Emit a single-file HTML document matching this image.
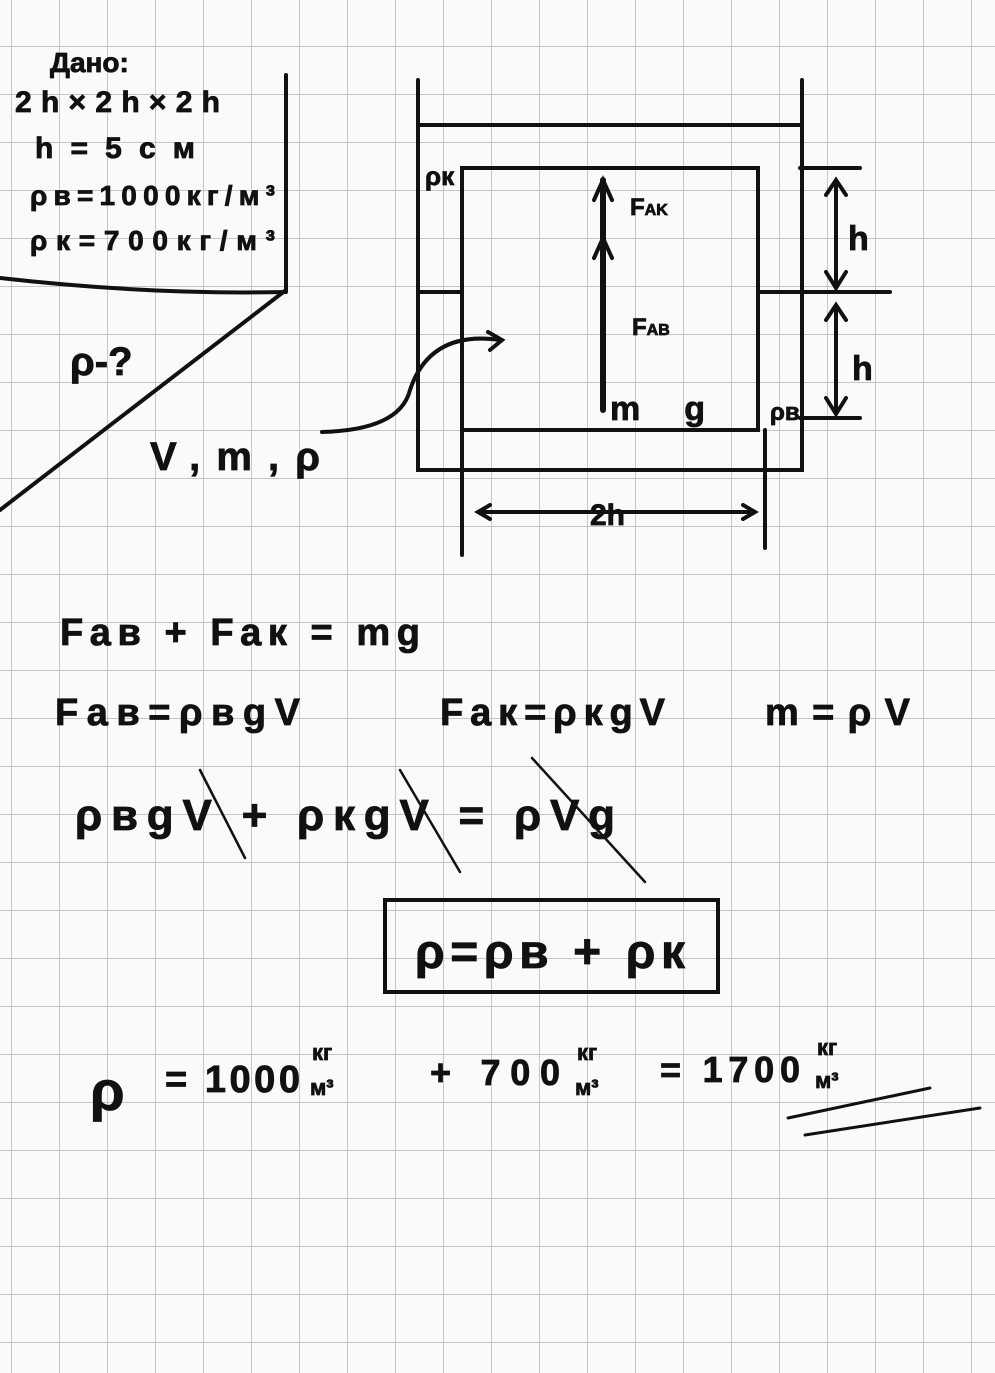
<!DOCTYPE html>
<html><head><meta charset="utf-8"><style>
html,body{margin:0;padding:0;background:#fff}
svg{display:block}
text{font-family:"Liberation Sans",sans-serif;font-weight:bold;fill:#111;stroke:#111;stroke-width:0.8}
</style></head><body>
<svg width="995" height="1373" viewBox="0 0 995 1373" xmlns="http://www.w3.org/2000/svg">
<defs>
<pattern id="g" x="11" y="-2" width="48" height="48" patternUnits="userSpaceOnUse">
<path d="M0 0V48M0 0H48" stroke="#a5a5a5" stroke-width="1.2" fill="none"/>
</pattern>
</defs>
<rect width="995" height="1373" fill="#fafafa"/>
<rect width="995" height="1373" fill="url(#g)"/>
<g stroke="#111" stroke-width="4" fill="none" stroke-linecap="round">
<path d="M286 75V290L0 510"/>
<path d="M0 278Q150 295 286 292"/>
<path d="M418 80V470H802V80"/>
<path d="M418 125H800"/>
<path d="M462 168H758V430H462Z"/>
<path d="M462 430V555M765 430V548"/>
<path d="M800 168H860M800 292H890M800 418H860"/>
<path d="M418 292H462M758 292H800"/>
<path d="M836 185V282M836 308V410"/>
<path d="M826 195L836 180L846 195M826 272L836 288L846 272M826 320L836 305L846 320M826 398L836 414L846 398"/>
<path d="M603 180V410" stroke-width="6"/>
<path d="M594 200L603 180L612 200M594 258L603 238L612 258"/>
<path d="M478 512H755M490 505L478 512L490 519M743 505L755 512L743 519"/>
<path d="M322 432Q400 430 410 390Q430 330 500 340M488 332L502 340L490 350"/>
<path d="M788 1118L930 1088M805 1135L980 1108" stroke-width="3"/>
<path d="M385 900H718V992H385Z"/>
<path d="M200 770L245 858M400 770L460 872M532 758L645 882" stroke-width="2.5"/>
</g>
<g font-size="30">
<text x="50" y="72" font-size="28">Дано:</text>
<text x="15" y="112" textLength="205">2h×2h×2h</text>
<text x="35" y="158" textLength="160">h=5см</text>
<text x="30" y="205" font-size="28" textLength="245">ρв=1000кг/м³</text>
<text x="30" y="250" font-size="28" textLength="245">ρк=700кг/м³</text>
<text x="70" y="375" font-size="40">ρ-?</text>
<text x="150" y="470" font-size="40" textLength="170">V,m,ρ</text>
<text x="425" y="185" font-size="26">ρк</text>
<text x="630" y="215" font-size="24">F<tspan font-size="16">AK</tspan></text>
<text x="632" y="335" font-size="24">F<tspan font-size="16">AB</tspan></text>
<text x="610" y="420" font-size="34" textLength="95">mg</text>
<text x="770" y="420" font-size="24">ρв</text>
<text x="848" y="250" font-size="34">h</text>
<text x="852" y="380" font-size="34">h</text>
<text x="590" y="525" font-size="30">2h</text>
<text x="60" y="645" font-size="38" textLength="360">Fав + Fак = mg</text>
<text x="55" y="725" font-size="38" textLength="245">Fав=ρвgV</text>
<text x="440" y="725" font-size="38" textLength="225">Fак=ρкgV</text>
<text x="765" y="725" font-size="38" textLength="145">m=ρV</text>
<text x="75" y="830" font-size="44" textLength="540">ρвgV + ρкgV = ρVg</text>
<text x="415" y="968" font-size="48" textLength="270">ρ=ρв + ρк</text>
<text x="90" y="1110" font-size="56">ρ</text>
<text x="165" y="1092" font-size="38" textLength="135">= 1000</text>
<text x="312" y="1060" font-size="22">кг</text><text x="310" y="1095" font-size="22">м³</text>
<text x="430" y="1085" font-size="36" textLength="130">+ 700</text>
<text x="577" y="1060" font-size="22">кг</text><text x="575" y="1095" font-size="22">м³</text>
<text x="660" y="1082" font-size="36" textLength="140">= 1700</text>
<text x="817" y="1055" font-size="22">кг</text><text x="815" y="1088" font-size="22">м³</text>
</g>
</svg>
</body></html>
